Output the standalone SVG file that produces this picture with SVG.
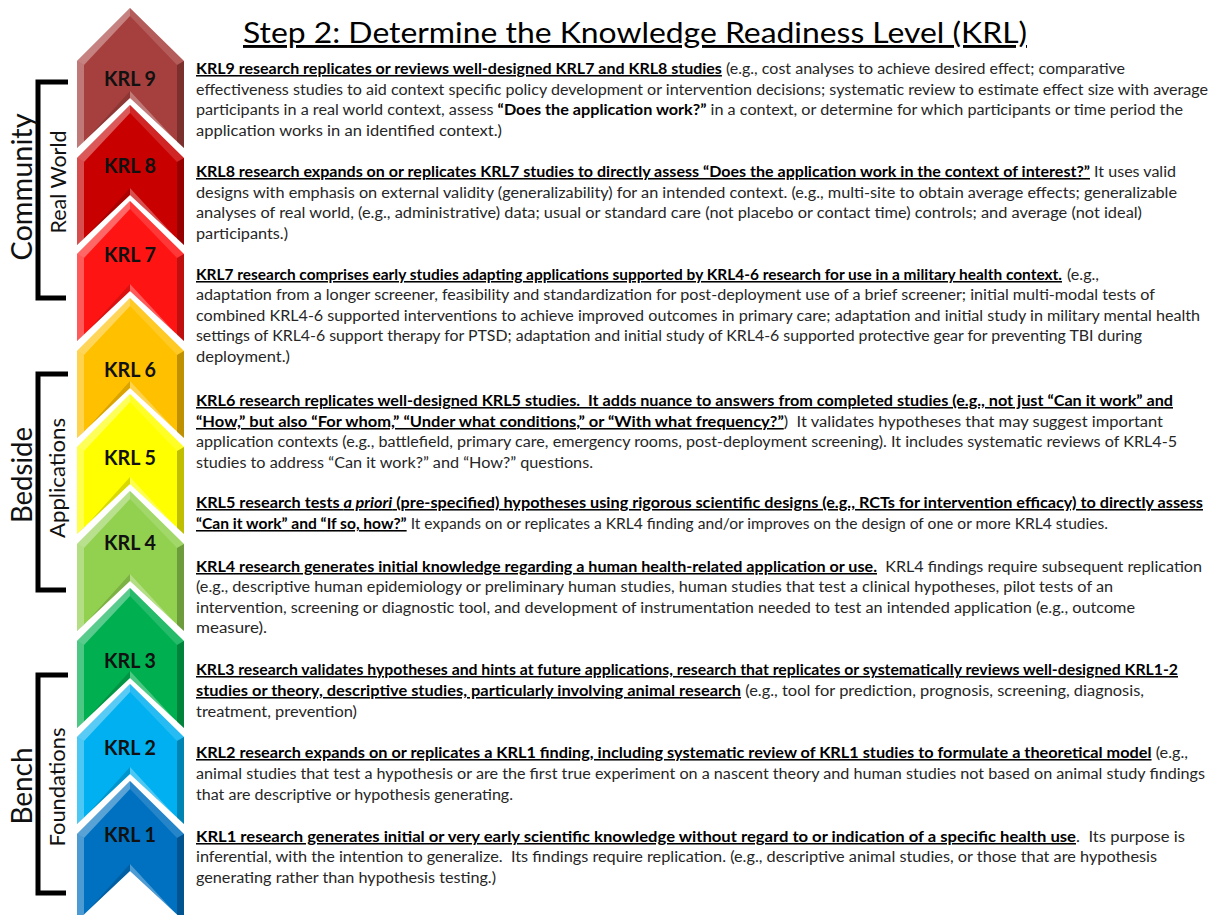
<svg xmlns="http://www.w3.org/2000/svg" width="1215" height="915" viewBox="0 0 1215 915">
<style>
.t{font-family:Lato,"Liberation Sans",sans-serif;font-size:15.5px;fill:#262626}
.bu{font-weight:bold;fill:#000;text-decoration:underline}
.b{font-weight:bold;fill:#000}
.i{font-style:italic}
.lbl{font-family:Lato,"Liberation Sans",sans-serif;font-size:21px;font-weight:bold;fill:#111;text-anchor:middle}
.big{font-family:Lato,"Liberation Sans",sans-serif;font-size:29px;fill:#111;text-anchor:middle}
.mid{font-family:Lato,"Liberation Sans",sans-serif;font-size:21px;fill:#111;text-anchor:middle}
.title{font-family:Lato,"Liberation Sans",sans-serif;font-size:29px;fill:#000;text-decoration:underline}
.br{fill:none;stroke:#000;stroke-width:5}
</style>
<defs>
<path id="chev" d="M130,0 L184,53 L184,140 L130,90 L77,140 L77,53 Z"/>
<g id="bevel">
<polygon points="77,53 130,0 130,8 84,57" fill="#fff" opacity="0.35"/>
<polygon points="130,0 184,53 177,57 130,8" fill="#fff" opacity="0.15"/>
<polygon points="77,53 84,57 84,134 77,140" fill="#fff" opacity="0.3"/>
<polygon points="184,53 184,140 177,134 177,57" fill="#000" opacity="0.25"/>
<polygon points="77,140 84,134 130,83 130,90" fill="#000" opacity="0.15"/>
<polygon points="130,90 130,83 177,134 184,140" fill="#fff" opacity="0.3"/>
</g>
</defs>
<rect width="1215" height="915" fill="#fff"/>
<g id="title"><text class="title" x="243" y="43" textLength="784" lengthAdjust="spacingAndGlyphs">Step 2: Determine the Knowledge Readiness Level (KRL)</text></g>

<g id="krl9">
<g transform="translate(0,8)"><use href="#chev" fill="#A6403E"/><use href="#bevel"/></g>
<text class="lbl" x="130" y="86" textLength="52" lengthAdjust="spacingAndGlyphs">KRL 9</text>
<text class="t" x="196" y="74" textLength="929" lengthAdjust="spacingAndGlyphs"><tspan class="bu">KRL9 research replicates or reviews well-designed KRL7 and KRL8 studies</tspan> (e.g., cost analyses to achieve desired effect; comparative</text>
<text class="t" x="196" y="95" textLength="1012" lengthAdjust="spacingAndGlyphs">effectiveness studies to aid context specific policy development or intervention decisions; systematic review to estimate effect size with average</text>
<text class="t" x="196" y="115" textLength="987" lengthAdjust="spacingAndGlyphs">participants in a real world context, assess <tspan class="b">“Does the application work?”</tspan> in a context, or determine for which participants or time period the</text>
<text class="t" x="196" y="136" textLength="306" lengthAdjust="spacingAndGlyphs">application works in an identified context.)</text>
</g>

<g id="krl8">
<g transform="translate(0,105)"><use href="#chev" fill="#C80000"/><use href="#bevel"/></g>
<text class="lbl" x="130" y="173" textLength="52" lengthAdjust="spacingAndGlyphs">KRL 8</text>
<text class="t" x="196" y="177" textLength="980" lengthAdjust="spacingAndGlyphs"><tspan class="bu">KRL8 research expands on or replicates KRL7 studies to directly assess “Does the application work in the context of interest?”</tspan> It uses valid</text>
<text class="t" x="196" y="198" textLength="981" lengthAdjust="spacingAndGlyphs">designs with emphasis on external validity (generalizability) for an intended context. (e.g., multi-site to obtain average effects; generalizable</text>
<text class="t" x="196" y="218" textLength="946" lengthAdjust="spacingAndGlyphs">analyses of real world, (e.g., administrative) data; usual or standard care (not placebo or contact time) controls; and average (not ideal)</text>
<text class="t" x="196" y="239" textLength="92" lengthAdjust="spacingAndGlyphs">participants.)</text>
</g>

<g id="krl7">
<g transform="translate(0,201)"><use href="#chev" fill="#FF1414"/><use href="#bevel"/></g>
<text class="lbl" x="130" y="262" textLength="52" lengthAdjust="spacingAndGlyphs">KRL 7</text>
<text class="t bu" x="196" y="280" textLength="866" lengthAdjust="spacingAndGlyphs">KRL7 research comprises early studies adapting applications supported by KRL4-6 research for use in a military health context.</text>
<text class="t" x="1067" y="280" textLength="32" lengthAdjust="spacingAndGlyphs">(e.g.,</text>
<text class="t" x="196" y="300" textLength="959" lengthAdjust="spacingAndGlyphs">adaptation from a longer screener, feasibility and standardization for post-deployment use of a brief screener; initial multi-modal tests of</text>
<text class="t" x="196" y="321" textLength="1004" lengthAdjust="spacingAndGlyphs">combined KRL4-6 supported interventions to achieve improved outcomes in primary care; adaptation and initial study in military mental health</text>
<text class="t" x="196" y="341" textLength="946" lengthAdjust="spacingAndGlyphs">settings of KRL4-6 support therapy for PTSD; adaptation and initial study of KRL4-6 supported protective gear for preventing TBI during</text>
<text class="t" x="196" y="362" textLength="94" lengthAdjust="spacingAndGlyphs">deployment.)</text>
</g>

<g id="krl6">
<g transform="translate(0,298)"><use href="#chev" fill="#FFC000"/><use href="#bevel"/></g>
<text class="lbl" x="130" y="377" textLength="52" lengthAdjust="spacingAndGlyphs">KRL 6</text>
<text class="t" x="196" y="406" textLength="977" lengthAdjust="spacingAndGlyphs"><tspan class="bu">KRL6 research replicates well-designed KRL5 studies. &#160;It adds nuance to answers from completed studies (e.g., not just “Can it work” and</tspan></text>
<text class="t" x="196" y="427" textLength="967" lengthAdjust="spacingAndGlyphs"><tspan class="bu">“How,” but also “For whom,” “Under what conditions,” or “With what frequency?”</tspan>) &#160;It validates hypotheses that may suggest important</text>
<text class="t" x="196" y="447" textLength="981" lengthAdjust="spacingAndGlyphs">application contexts (e.g., battlefield, primary care, emergency rooms, post-deployment screening). It includes systematic reviews of KRL4-5</text>
<text class="t" x="196" y="468" textLength="397" lengthAdjust="spacingAndGlyphs">studies to address “Can it work?” and “How?” questions.</text>
</g>

<g id="krl5">
<g transform="translate(0,394)"><use href="#chev" fill="#FFFF00"/><use href="#bevel"/></g>
<text class="lbl" x="130" y="465" textLength="52" lengthAdjust="spacingAndGlyphs">KRL 5</text>
<text class="t" x="196" y="508" textLength="1007" lengthAdjust="spacingAndGlyphs"><tspan class="bu">KRL5 research tests <tspan class="i">a priori</tspan> (pre-specified) hypotheses using rigorous scientific designs (e.g., RCTs for intervention efficacy) to directly assess</tspan></text>
<text class="t" x="196" y="529" textLength="912" lengthAdjust="spacingAndGlyphs"><tspan class="bu">“Can it work” and “If so, how?”</tspan> It expands on or replicates a KRL4 finding and/or improves on the design of one or more KRL4 studies.</text>
</g>

<g id="krl4">
<g transform="translate(0,491)"><use href="#chev" fill="#92D050"/><use href="#bevel"/></g>
<text class="lbl" x="130" y="550" textLength="52" lengthAdjust="spacingAndGlyphs">KRL 4</text>
<text class="t" x="196" y="572" textLength="1006" lengthAdjust="spacingAndGlyphs"><tspan class="bu">KRL4 research generates initial knowledge regarding a human health-related application or use.</tspan> &#160;KRL4 findings require subsequent replication</text>
<text class="t" x="196" y="592" textLength="917" lengthAdjust="spacingAndGlyphs">(e.g., descriptive human epidemiology or preliminary human studies, human studies that test a clinical hypotheses, pilot tests of an</text>
<text class="t" x="196" y="613" textLength="939" lengthAdjust="spacingAndGlyphs">intervention, screening or diagnostic tool, and development of instrumentation needed to test an intended application (e.g., outcome</text>
<text class="t" x="196" y="633" textLength="71" lengthAdjust="spacingAndGlyphs">measure).</text>
</g>

<g id="krl3">
<g transform="translate(0,588)"><use href="#chev" fill="#00B050"/><use href="#bevel"/></g>
<text class="lbl" x="130" y="668" textLength="52" lengthAdjust="spacingAndGlyphs">KRL 3</text>
<text class="t" x="196" y="675" textLength="982" lengthAdjust="spacingAndGlyphs"><tspan class="bu">KRL3 research validates hypotheses and hints at future applications, research that replicates or systematically reviews well-designed KRL1-2</tspan></text>
<text class="t" x="196" y="696" textLength="948" lengthAdjust="spacingAndGlyphs"><tspan class="bu">studies or theory, descriptive studies, particularly involving animal research</tspan> (e.g., tool for prediction, prognosis, screening, diagnosis,</text>
<text class="t" x="196" y="717" textLength="161" lengthAdjust="spacingAndGlyphs">treatment, prevention)</text>
</g>

<g id="krl2">
<g transform="translate(0,684)"><use href="#chev" fill="#00B0F0"/><use href="#bevel"/></g>
<text class="lbl" x="130" y="755" textLength="52" lengthAdjust="spacingAndGlyphs">KRL 2</text>
<text class="t" x="196" y="758" textLength="992" lengthAdjust="spacingAndGlyphs"><tspan class="bu">KRL2 research expands on or replicates a KRL1 finding, including systematic review of KRL1 studies to formulate a theoretical model</tspan> (e.g.,</text>
<text class="t" x="196" y="779" textLength="1009" lengthAdjust="spacingAndGlyphs">animal studies that test a hypothesis or are the first true experiment on a nascent theory and human studies not based on animal study findings</text>
<text class="t" x="196" y="800" textLength="317" lengthAdjust="spacingAndGlyphs">that are descriptive or hypothesis generating.</text>
</g>

<g id="krl1">
<g transform="translate(0,781)"><use href="#chev" fill="#0070C0"/><use href="#bevel"/></g>
<text class="lbl" x="130" y="842" textLength="52" lengthAdjust="spacingAndGlyphs">KRL 1</text>
<text class="t" x="196" y="842" textLength="989" lengthAdjust="spacingAndGlyphs"><tspan class="bu">KRL1 research generates initial or very early scientific knowledge without regard to or indication of a specific health use</tspan>. &#160;Its purpose is</text>
<text class="t" x="196" y="862" textLength="961" lengthAdjust="spacingAndGlyphs">inferential, with the intention to generalize. &#160;Its findings require replication. (e.g., descriptive animal studies, or those that are hypothesis</text>
<text class="t" x="196" y="883" textLength="300" lengthAdjust="spacingAndGlyphs">generating rather than hypothesis testing.)</text>
</g>

<g id="community">
<path class="br" d="M68,82 H38 V298 H66"/>
<text class="big" transform="translate(32,187) rotate(-90)" textLength="147" lengthAdjust="spacingAndGlyphs">Community</text>
<text class="mid" transform="translate(66,182) rotate(-90)" textLength="103" lengthAdjust="spacingAndGlyphs">Real World</text>
</g>
<g id="bedside">
<path class="br" d="M68,374 H38 V590 H66"/>
<text class="big" transform="translate(32,475) rotate(-90)" textLength="96" lengthAdjust="spacingAndGlyphs">Bedside</text>
<text class="mid" transform="translate(65,478) rotate(-90)" textLength="120" lengthAdjust="spacingAndGlyphs">Applications</text>
</g>
<g id="bench">
<path class="br" d="M68,675 H38 V893 H66"/>
<text class="big" transform="translate(32,786) rotate(-90)" textLength="77" lengthAdjust="spacingAndGlyphs">Bench</text>
<text class="mid" transform="translate(65,787) rotate(-90)" textLength="119" lengthAdjust="spacingAndGlyphs">Foundations</text>
</g>
<g id="connectors"/>
</svg>
